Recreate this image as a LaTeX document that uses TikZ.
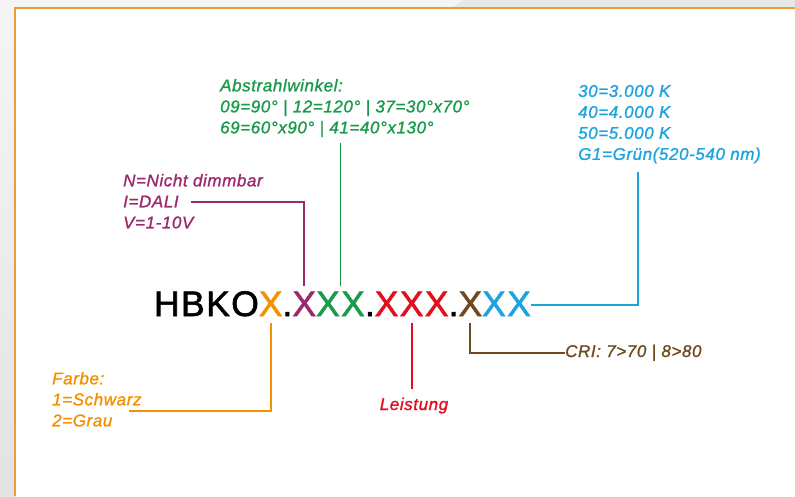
\documentclass[tikz,border=0pt]{standalone}
\usepackage{fontspec}
\setmainfont{Liberation Sans}
\newfontfamily\codefont[LetterSpace=4,FakeBold=1.6]{Liberation Sans}
\newfontfamily\labelfont[LetterSpace=3.5,FakeBold=1.2]{Liberation Sans}
\usetikzlibrary{positioning}
\definecolor{frameorange}{HTML}{F29A35}
\definecolor{farbe}{HTML}{F39200}
\definecolor{dimm}{HTML}{9C2A6A}
\definecolor{winkel}{HTML}{1A9B4B}
\definecolor{leistung}{HTML}{E30F1E}
\definecolor{cri}{HTML}{6F4A1F}
\definecolor{licht}{HTML}{1DA4E0}

\begin{document}
\begin{tikzpicture}[
  x=1pt, y=-1pt,
  code node/.style={
    inner xsep=0pt,
    inner ysep=5pt,
    outer sep=0pt,
    text height=24.8pt,
    text depth=2pt,
    font=\codefont\fontsize{35.5}{35.5}\selectfont,
  },
  label node/.style={
    inner sep=0pt,
    align=left,
    anchor=north west,
    font=\labelfont\itshape\fontsize{17}{21}\selectfont,
  },
  code line/.style={line width=1.8pt},
  ]
  \useasboundingbox (0,0) rectangle (795,496);
  % page background and frame
  \fill[white] (0,0) rectangle (795,496);
  \fill[black!4] (0,0) rectangle (795,7.5);
  \fill[black!9] (452,7.5) -- (464,0) -- (795,0) -- (795,7.5) -- cycle;
  \shade[top color=black!4,bottom color=black!11] (0,7.5) rectangle (15,496);
  \draw[frameorange,line width=2pt] (15,496) -- (15,7.5) -- (795,7.5);

  % the type code
  \node[code node,anchor=base west] (hbko) at (154,316) {HBKO};
  \node[code node,right=0pt of hbko,text=farbe] (farbe-x) {X};
  \node[code node,right=0pt of farbe-x] (dot-a) {.};
  \node[code node,right=0pt of dot-a,text=dimm] (dimm-x) {X};
  \node[code node,right=0pt of dimm-x,text=winkel] (winkel-x) {XX};
  \node[code node,right=0pt of winkel-x] (dot-b) {.};
  \node[code node,right=0pt of dot-b,text=leistung] (leistung-x) {XXX};
  \node[code node,right=0pt of leistung-x] (dot-c) {.};
  \node[code node,right=0pt of dot-c,text=cri] (cri-x) {X};
  \node[code node,right=0pt of cri-x,text=licht] (licht-x) {XX};

  % the labels
  \node[label node,text=winkel] (winkel-label) at (220,78.8)
  {Abstrahlwinkel:\\09=90° | 12=120° | 37=30°x70°\\69=60°x90° | 41=40°x130°};
  \node[label node,text=licht] (licht-label) at (578,84.8)
  {30=3.000 K\\40=4.000 K\\50=5.000 K\\G1=Grün(520-540 nm)};
  \node[label node,text=dimm] (dimm-label) at (123,173.8)
  {N=Nicht dimmbar\\I=DALI\\V=1-10V};
  \node[label node,text=farbe] (farbe-label) at (52,371.8)
  {Farbe:\\1=Schwarz\\2=Grau};
  \node[label node,text=leistung,anchor=base] (leistung-label) at (414,410) {Leistung};
  \node[label node,text=cri,anchor=base west] (cri-label) at (565,357) {CRI: 7>70 | 8>80};

  \coordinate (farbe-end) at (129,411);
  \coordinate (dimm-end) at (191,202);
  \coordinate (licht-end) at (638,172);

  % the leader lines
  \draw[code line,farbe] (farbe-x.south) |- (farbe-end);
  \draw[code line,dimm] (dimm-x.north) |- (dimm-end);
  \draw[code line,winkel,shorten >=5.4pt] (winkel-x.north) -- (winkel-x.north |- winkel-label.south);
  \draw[code line,leistung,shorten >=8pt] (leistung-x.south) -- (leistung-x.south |- leistung-label.north);
  \draw[code line,cri] (cri-x.south) |- (cri-label.west);
  \draw[code line,licht] (licht-x.east) -| (licht-end);
\end{tikzpicture}
\end{document}
